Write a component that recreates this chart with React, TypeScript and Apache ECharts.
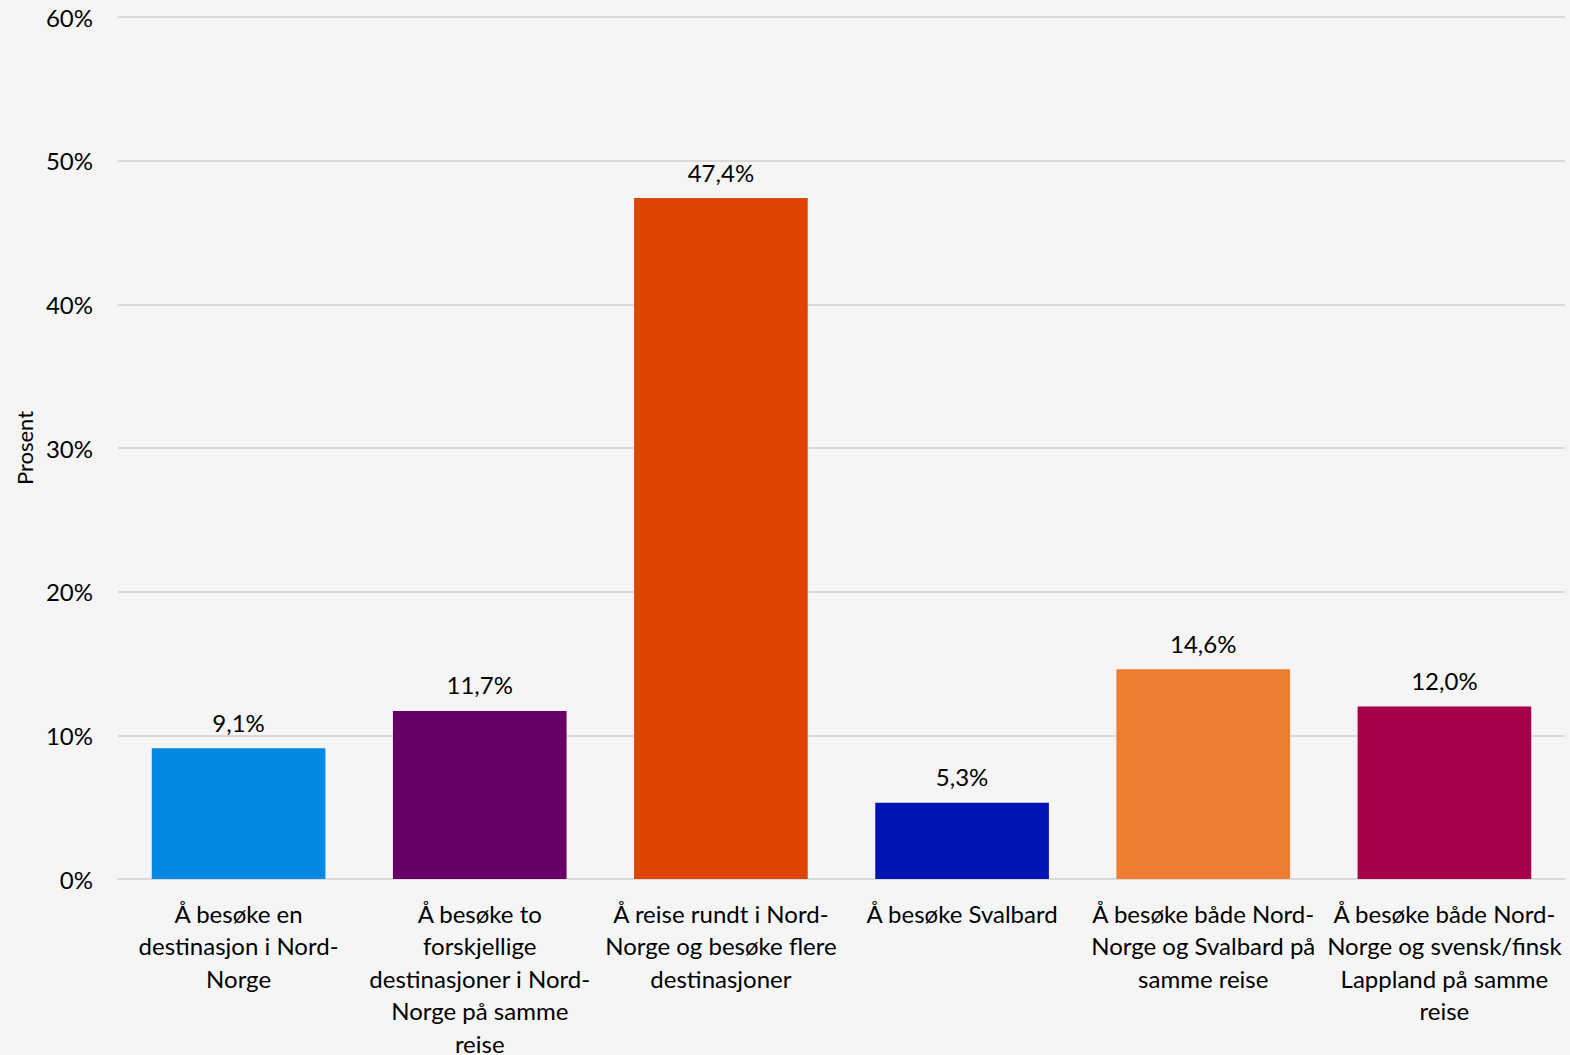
import React, { useEffect, useRef } from "react";
import * as echarts from "echarts";

const categories = [
  "Å besøke en\ndestinasjon i Nord-\nNorge",
  "Å besøke to\nforskjellige\ndestinasjoner i Nord-\nNorge på samme\nreise",
  "Å reise rundt i Nord-\nNorge og besøke flere\ndestinasjoner",
  "Å besøke Svalbard",
  "Å besøke både Nord-\nNorge og Svalbard på\nsamme reise",
  "Å besøke både Nord-\nNorge og svensk/finsk\nLappland på samme\nreise",
];
const values = [9.1, 11.7, 47.4, 5.3, 14.6, 12.0];
const colors = ["#0088e2", "#660066", "#e04403", "#0014b4", "#ed7d31", "#a6004a"];
const yTicks = { min: 0, max: 60, interval: 10 };

const FONT = "Lato";

export default function App() {
  const ref = useRef<HTMLDivElement>(null);
  useEffect(() => {
    document.body.style.margin = "0";
    const chart = echarts.init(ref.current!, null, { renderer: "svg" });
    chart.setOption({
      animation: false,
      backgroundColor: "#f5f5f5",
      textStyle: { fontFamily: FONT },
      grid: { left: 118, right: 5, top: 17, bottom: 176, outerBoundsMode: "none", containLabel: false },
      xAxis: {
        type: "category",
        data: categories,
        axisLine: { lineStyle: { color: "#d9d9d9", width: 2 } },
        axisTick: { show: false },
        axisLabel: {
          interval: 0,
          color: "#000",
          fontSize: 24,
          fontFamily: FONT,
          lineHeight: 32.5,
          margin: 18,
        },
      },
      yAxis: {
        type: "value",
        min: yTicks.min,
        max: yTicks.max,
        interval: yTicks.interval,
        name: "Prosent",
        nameLocation: "middle",
        nameGap: 82,
        nameTextStyle: { color: "#000", fontSize: 22, fontFamily: FONT },
        axisLabel: {
          formatter: "{value}%",
          color: "#000",
          fontSize: 24,
          fontFamily: FONT,
          margin: 25,
        },
        splitLine: { lineStyle: { color: "#d9d9d9", width: 2 } },
        axisLine: { show: false },
        axisTick: { show: false },
      },
      series: [
        {
          type: "bar",
          data: values.map((v, i) => ({ value: v, itemStyle: { color: colors[i] } })),
          barCategoryGap: "28%",
          label: {
            show: true,
            position: "top",
            distance: 14,
            color: "#000",
            fontSize: 24,
            fontFamily: FONT,
            formatter: (p: any) => p.value.toFixed(1).replace(".", ",") + "%",
          },
        },
      ],
    });
    return () => chart.dispose();
  }, []);
  return <div ref={ref} style={{ width: 1570, height: 1055 }} />;
}
